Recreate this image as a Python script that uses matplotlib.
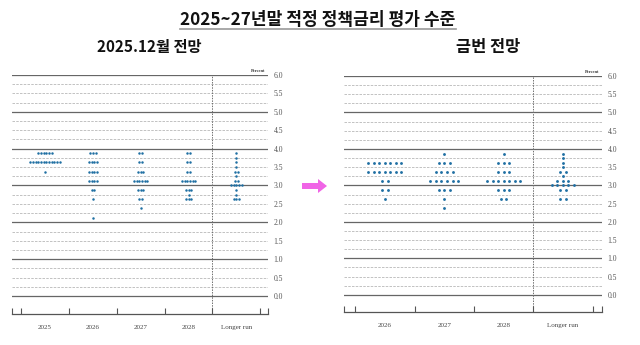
import numpy as np
import matplotlib
matplotlib.use('Agg')
import matplotlib.pyplot as plt
from matplotlib.lines import Line2D
from matplotlib.patches import FancyArrow

plt.rcParams['font.family'] = ['Noto Sans CJK KR', 'DejaVu Sans']

# rate levels (midpoints of 25bp ranges and boundaries)
rate_levels = [3.875, 3.75, 3.625, 3.5, 3.375, 3.25, 3.125, 3.0,
               2.875, 2.75, 2.625, 2.5, 2.375, 2.25, 2.125]

# 2025.12 projections: number of participants at each rate level
dec_categories = ['2025', '2026', '2027', '2028', 'Longer run']
dec_2025 = [6, 0, 12, 0, 1, 0, 0, 0, 0, 0, 0, 0, 0, 0, 0]
dec_2026 = [3, 0, 4, 0, 4, 0, 4, 0, 2, 0, 1, 0, 0, 0, 1]
dec_2027 = [2, 0, 2, 0, 3, 0, 6, 0, 3, 0, 2, 0, 1, 0, 0]
dec_2028 = [2, 0, 2, 0, 2, 0, 6, 0, 3, 1, 3, 0, 0, 0, 0]
dec_lr = [1, 1, 1, 1, 2, 1, 2, 5, 1, 1, 3, 0, 0, 0, 0]

# current projections
cur_categories = ['2026', '2027', '2028', 'Longer run']
cur_2026 = [0, 0, 7, 0, 7, 0, 2, 0, 2, 0, 1, 0, 0, 0, 0]
cur_2027 = [1, 0, 3, 0, 4, 0, 6, 0, 3, 0, 1, 0, 1, 0, 0]
cur_2028 = [1, 0, 3, 0, 3, 0, 7, 0, 3, 0, 2, 0, 0, 0, 0]
cur_lr = [1, 1, 1, 1, 2, 1, 3, 5, 2, 0, 2, 0, 0, 0, 0]

y_ticks = np.arange(0, 6.01, 0.5)

DOT = '#1f6fa3'
GRID_MAJOR = '#666666'
GRID_MINOR = '#b8b8b8'
SERIF = 'Liberation Serif'


def dot_panel(ax, categories, counts_list, spacing, dot_size, ybottom):
    n = len(categories)
    xmin, xmax = -0.5 - 0.19, n - 0.5 + 0.16
    ax.set_xlim(xmin, xmax)
    ax.set_ylim(ybottom, 6.0)
    # horizontal grid every 0.25
    for v in np.arange(0, 6.01, 0.25):
        if abs(v - round(v)) < 1e-9:
            ax.axhline(v, color=GRID_MAJOR, lw=0.9, zorder=1)
        else:
            ax.axhline(v, color=GRID_MINOR, lw=0.6, ls=(0, (3, 1.5)), zorder=1)
    # longer run separator
    ax.plot([n - 1.5, n - 1.5], [ybottom, 6.0], color='#707070', lw=0.7,
            ls=(0, (1.5, 1.2)), zorder=1, clip_on=False)
    # dots
    for i, counts in enumerate(counts_list):
        for r, c in zip(rate_levels, counts):
            if c == 0:
                continue
            xs = i + (np.arange(c) - (c - 1) / 2) * spacing
            ax.scatter(xs, [r] * c, s=dot_size, color=DOT, linewidths=0, zorder=3)
    # axes styling
    for s in ['top', 'left', 'right']:
        ax.spines[s].set_visible(False)
    ax.spines['bottom'].set_color('#555555')
    ax.spines['bottom'].set_linewidth(0.9)
    ax.set_xticks([xmin] + list(np.arange(n + 1) - 0.5) + [xmax])
    ax.set_xticklabels([])
    ax.tick_params(axis='x', direction='in', length=4, width=0.8, color='#555555')
    ax.yaxis.tick_right()
    ax.set_yticks(y_ticks)
    ax.set_yticklabels([f'{v:.1f}' for v in y_ticks], fontsize=5.5,
                       family=SERIF, color='#555555')
    ax.tick_params(axis='y', length=0, pad=4)
    for i, lab in enumerate(categories):
        ax.text(i, ybottom - 0.36, lab, ha='center', va='center',
                fontsize=5, family=SERIF, color='#444444')
    ax.text(xmax - 0.05, 6.05, 'Percent', ha='right', va='bottom',
            fontsize=3.2, family=SERIF, color='#333333', weight='bold')


fig = plt.figure(figsize=(6.4, 3.45), dpi=100)

ax1 = fig.add_axes([12 / 640, 31 / 345, 256 / 640, 239 / 345])
dot_panel(ax1, dec_categories, [dec_2025, dec_2026, dec_2027, dec_2028, dec_lr],
          0.056, 3.2, -0.49)

ax2 = fig.add_axes([344 / 640, 33 / 345, 258 / 640, 236 / 345])
dot_panel(ax2, cur_categories, [cur_2026, cur_2027, cur_2028, cur_lr],
          0.093, 4.2, -0.47)

# titles
title = fig.text(0.497, 1 - 20 / 345, '2025~27년말 적정 정책금리 평가 수준',
                 ha='center', va='center', fontsize=12.3, weight='bold',
                 color='#111111')
fig.text(149 / 640, 1 - 47 / 345, '2025.12월 전망', ha='center', va='center',
         fontsize=11, weight='bold', color='#111111')
fig.text(488 / 640, 1 - 47 / 345, '금번 전망', ha='center', va='center',
         fontsize=11.8, weight='bold', color='#111111')

# underline the title
fig.canvas.draw()
bb = title.get_window_extent().transformed(fig.transFigure.inverted())
fig.add_artist(Line2D([bb.x0, bb.x1], [1 - 29 / 345] * 2, transform=fig.transFigure,
                      color='#999999', lw=1.2))

# arrow between panels
fig.add_artist(FancyArrow(302 / 640, 1 - 186 / 345, 25 / 640, 0,
                          width=6 / 345, head_width=14 / 345, head_length=9 / 640,
                          length_includes_head=True, transform=fig.transFigure,
                          color='#f064e6', lw=0))

fig.savefig('out.png', dpi=100)
